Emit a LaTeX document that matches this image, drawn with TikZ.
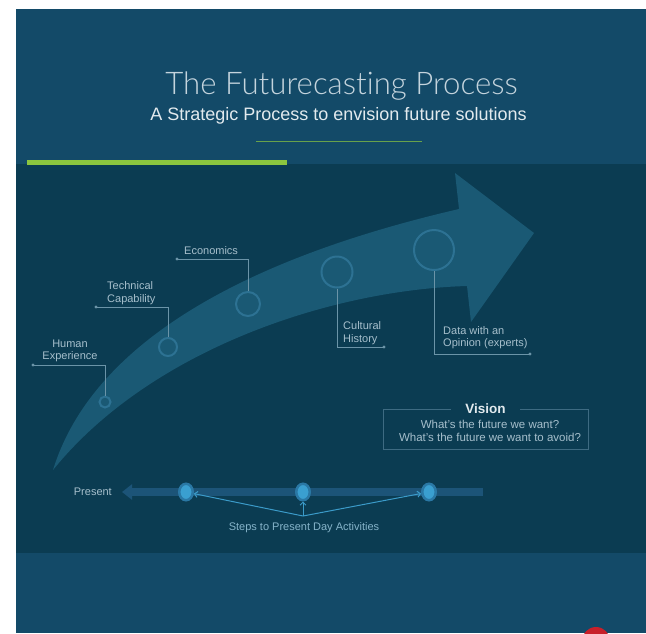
\documentclass[tikz,border=0pt]{standalone}
\usepackage{fontspec}
\setmainfont{Liberation Sans}
\IfFontExistsTF{Lato Light}
  {\newfontfamily\thinfont{Lato Light}[Ligatures=NoCommon]\def\titlesize{31.2}}
  {\newfontfamily\thinfont{Liberation Sans}\def\titlesize{29.5}}
\usetikzlibrary{shapes.geometric,arrows.meta}
\definecolor{headblue}{HTML}{134A68}
\definecolor{panelblue}{HTML}{0B3C52}
\definecolor{bandblue}{HTML}{1A5974}
\definecolor{ringblue}{HTML}{2D7293}
\definecolor{leadgray}{HTML}{6B94A8}
\definecolor{labelgray}{HTML}{A6BFCC}
\definecolor{titlegray}{HTML}{C4D4DD}
\definecolor{subgray}{HTML}{E2EAEE}
\definecolor{barblue}{HTML}{1C5478}
\definecolor{dotblue}{HTML}{3A9FD0}
\definecolor{dotring}{HTML}{2A78A5}
\definecolor{stepblue}{HTML}{3B9BC9}
\definecolor{steptext}{HTML}{86B4CA}
\definecolor{limegreen}{HTML}{8CC63F}
\definecolor{boxgray}{HTML}{3E6B82}
\definecolor{markred}{HTML}{C8202A}
\tikzset{
  ring/.style={circle,draw=ringblue,line width=2pt,inner sep=0pt},
  lead/.style={draw=leadgray,line width=0.8pt},
  lbl/.style={text=labelgray,font=\fontsize{11}{12.5}\selectfont,inner sep=0pt},
  stepdot/.style={ellipse,fill=dotblue,draw=dotring,line width=2.5pt,minimum width=13.5pt,minimum height=16.5pt,inner sep=0pt},
  steparrow/.style={draw=stepblue,line width=1pt,->},
}
\begin{document}
\begin{tikzpicture}[x=1pt,y=-1pt,>={Straight Barb[length=3pt,width=6pt]}]
  \clip(0,0)rectangle(646,633);
  \fill[white](0,0)rectangle(646,633);
  \fill[headblue](16,9)rectangle(646,164);
  \fill[panelblue](16,164)rectangle(646,553);
  \fill[headblue](16,553)rectangle(646,633);
  \fill[limegreen](27,160)rectangle(287,164.5);
  \draw[limegreen!70!headblue,line width=0.8pt](256,141)--(422,141);
  \node[anchor=base,text=titlegray,font=\thinfont\fontsize{\titlesize}{33}\selectfont](title) at(341.5,94){The Futurecasting Process};
  \node[anchor=base,text=subgray,font=\fontsize{18}{20}\selectfont](subtitle) at(338.5,120){A Strategic Process to envision future solutions};
  \fill[bandblue](53,470) .. controls (90,350) and (230,262) .. (459,209)
    --(455,173)--(534,233)--(471,322)--(467,286)
    .. controls (330,290) and (150,350) .. (53,470)--cycle;
  \node[ring,minimum size=11pt](human) at(105,402){};
  \node[ring,minimum size=18pt](tech) at(168,347){};
  \node[ring,minimum size=24pt](econ) at(248,304){};
  \node[ring,minimum size=31pt](culture) at(337,272){};
  \node[ring,minimum size=40pt](data) at(434,250){};
  \coordinate(humanend) at(33,365);
  \coordinate(techend) at(96,307);
  \coordinate(econend) at(177,259);
  \coordinate(cultureend) at(384,347);
  \coordinate(dataend) at(530,354);
  \draw[lead](human.north)|-(humanend);
  \draw[lead](tech.north)|-(techend);
  \draw[lead](econ.north)|-(econend);
  \draw[lead](culture.south)|-(cultureend);
  \draw[lead](data.south)|-(dataend);
  \foreach \e in {humanend,techend,econend,cultureend,dataend}
    \fill[leadgray](\e)circle(1.6);
  \node[lbl,align=center](humanlbl) at(70,351){Human\\Experience};
  \node[lbl,align=left,anchor=west](techlbl) at(107,293){Technical\\Capability};
  \node[lbl,anchor=west](econlbl) at(184,251){Economics};
  \node[lbl,align=left,anchor=west](culturelbl) at(343,333){Cultural\\History};
  \node[lbl,align=left,anchor=west](datalbl) at(443,337.5){Data with an\\Opinion (experts)};
  \node[draw=boxgray,line width=0.8pt,minimum width=205pt,minimum height=40pt](vision) at(485.5,429){};
  \node[fill=panelblue,inner xsep=14pt,inner ysep=1pt,text=subgray,font=\bfseries\fontsize{13.5}{15}\selectfont](visiontitle) at(vision.north){Vision};
  \node[align=center,text=labelgray,font=\fontsize{11.5}{12.5}\selectfont,inner sep=0pt](visiontext) at(490,431){What's the future we want?\\What's the future we want to avoid?};
  \coordinate(barright) at(483,492);
  \coordinate(barleft) at(122,492);
  \draw[barblue,line width=8pt,-{Triangle[length=10pt,width=15pt]}](barright)--(barleft);
  \node[lbl,anchor=east](present) at(112,492){Present};
  \node[stepdot](stepa) at(186,492){};
  \node[stepdot](stepb) at(303,492){};
  \node[stepdot](stepc) at(429,492){};
  \coordinate(hub) at(303,516);
  \draw[steparrow](hub)--(stepa);
  \draw[steparrow](hub)--(stepb);
  \draw[steparrow](hub)--(stepc);
  \node[lbl,text=steptext](steps) at(304,528){Steps to Present Day Activities};
  \fill[markred](596,641)circle(14);
\end{tikzpicture}
\end{document}
